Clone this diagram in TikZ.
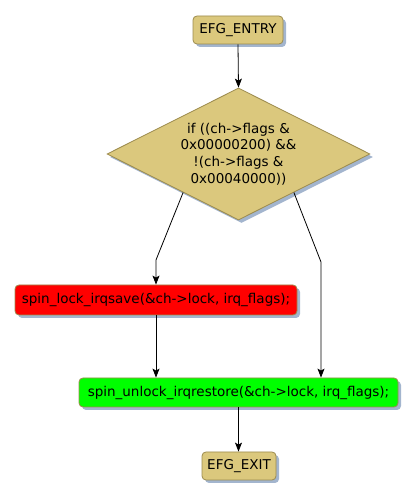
\documentclass[tikz,border=0pt]{standalone}
\usepackage{fontspec}
\setmainfont{DejaVu Sans}
\usetikzlibrary{shapes.geometric,arrows.meta,shadows,calc}
\definecolor{tan}{HTML}{DBC87D}
\definecolor{bord}{HTML}{9C8B4E}
\definecolor{shadowc}{HTML}{A3B5CE}
\tikzset{
  x=1pt,y=1pt,
  shad/.style={drop shadow={shadow xshift=3pt,shadow yshift=-3pt,fill=shadowc,opacity=1}},
  boxs/.style={draw=bord,line width=0.8pt,rounded corners=4pt,shad,inner sep=0pt,font=\fontsize{13.5}{16}\selectfont},
  conn/.style={line width=0.8pt,-{Stealth[length=9pt,width=7pt,inset=2pt]}}
}
\begin{document}
\begin{tikzpicture}
\useasboundingbox (0,0) rectangle (416,501);
\node[boxs,fill=tan,minimum width=90pt,minimum height=28pt] (entry) at (238,471) {EFG\_ENTRY};
\node[diamond,draw=bord,line width=0.8pt,fill=tan,shad,inner sep=0pt,minimum width=263pt,minimum height=132pt] (cond) at (238.5,347) {};
\node[align=center,inner sep=0pt,font=\fontsize{13.5}{16.7}\selectfont] (condtext) at (cond.center) {if ((ch->flags \&\\0x00000200) \&\&\\!(ch->flags \&\\0x00040000))};
\node[boxs,fill=red,minimum width=282pt,minimum height=30pt] (lock) at (156,201) {spin\_lock\_irqsave(\&ch->lock, irq\_flags);};
\node[boxs,fill=green,minimum width=319pt,minimum height=29pt] (unlock) at (238.5,108.5) {spin\_unlock\_irqrestore(\&ch->lock, irq\_flags);};
\node[boxs,fill=tan,minimum width=74pt,minimum height=28pt] (exit) at (239,35) {EFG\_EXIT};
\coordinate (bl) at (156,241);
\coordinate (br) at (321,239);
\draw[conn] (entry.south) -- (cond.north);
\draw[conn] ($(cond.west)!0.58!(cond.south)$) -- (bl) -- (lock.north -| bl);
\draw[conn] ($(cond.east)!0.58!(cond.south)$) -- (br) -- (unlock.north -| br);
\draw[conn] (lock.south) -- (lock.south |- unlock.north);
\draw[conn] (unlock.south) -- (unlock.south |- exit.north);
\end{tikzpicture}
\end{document}
